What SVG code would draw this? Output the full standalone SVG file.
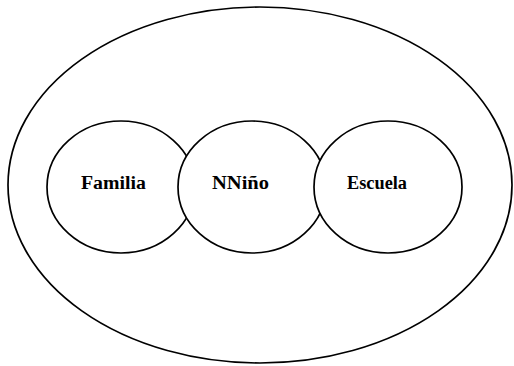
<svg xmlns="http://www.w3.org/2000/svg" width="514" height="366" viewBox="0 0 514 366">
<style>
.shape{fill:#fff;stroke:#000;stroke-width:1.7}
.lbl{font-family:"Liberation Serif","Times New Roman",serif;font-size:18px;font-weight:bold;fill:#000;text-anchor:middle}
</style>
<rect width="514" height="366" fill="#fff"/>
<g id="entorno"><ellipse class="shape" cx="260" cy="185" rx="252" ry="178"/></g>
<g id="connectors"></g>
<g id="familia"><ellipse class="shape" cx="121" cy="187" rx="74" ry="66"/><text class="lbl" x="113.5" y="189" textLength="65" lengthAdjust="spacingAndGlyphs">Familia</text></g>
<g id="nino"><ellipse class="shape" cx="252" cy="187" rx="74" ry="66"/><text class="lbl" x="240.5" y="189" textLength="57" lengthAdjust="spacingAndGlyphs">NNiño</text></g>
<g id="escuela"><ellipse class="shape" cx="388" cy="187" rx="74" ry="66"/><text class="lbl" x="377" y="189" textLength="60" lengthAdjust="spacingAndGlyphs">Escuela</text></g>
</svg>
